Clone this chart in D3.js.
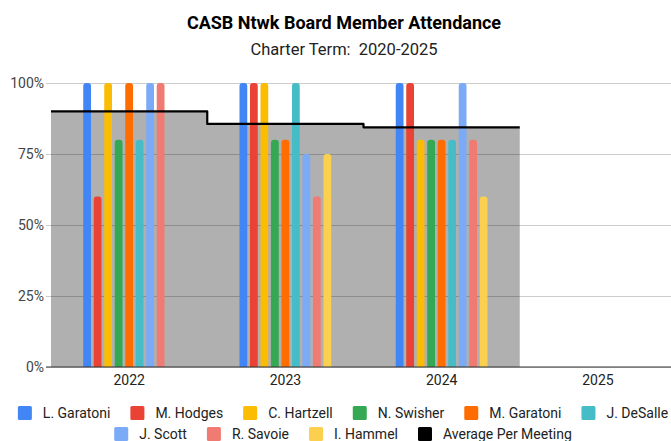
<!DOCTYPE html>
<html>
<head>
<meta charset="utf-8">
<script src="https://cdn.jsdelivr.net/npm/d3@7"></script>
<style>
  body { margin: 0; background: #fff; }
  text { font-family: Roboto, "Noto Sans", sans-serif; }
</style>
</head>
<body>
<script>
var w = 671,
    h = 441;

// chart data
var years = ["2022", "2023", "2024", "2025"];
var members = ["L. Garatoni", "M. Hodges", "C. Hartzell", "N. Swisher", "M. Garatoni",
               "J. DeSalle", "J. Scott", "R. Savoie", "I. Hammel"];
var memberColors = ["#4285f4", "#ea4335", "#fbbc04", "#34a853", "#ff6d01",
                    "#46bdc6", "#7baaf7", "#f07b72", "#fcd04f"];
// attendance % per member, one entry per year (null = no data)
var lGaratoni = [100, 100, 100, null];
var mHodges   = [60, 100, 100, null];
var cHartzell = [100, 100, 80, null];
var nSwisher  = [80, 80, 80, null];
var mGaratoni = [100, 80, 80, null];
var jDeSalle  = [80, 100, 80, null];
var jScott    = [100, 75, 100, null];
var rSavoie   = [100, 60, 80, null];
var iHammel   = [null, 75, 60, null];
var averagePerMeeting = [90, 85.6, 84.4, null];
var yTicks = [0, 25, 50, 75, 100];

var series = [lGaratoni, mHodges, cHartzell, nSwisher, mGaratoni, jDeSalle, jScott, rSavoie, iHammel];

var svg = d3.select("body").append("svg")
    .attr("width", w)
    .attr("height", h);

var x0 = d3.scaleBand().domain(years).range([51, 676]);
var y = d3.scaleLinear().domain([0, 100]).range([367, 83]);
var groupW = 94.5;
var x1 = d3.scaleBand().domain(members)
    .range([x0.bandwidth() / 2 - groupW / 2, x0.bandwidth() / 2 + groupW / 2])
    .paddingInner(0.26).paddingOuter(0.13);

// titles
svg.append("text")
    .attr("x", 344).attr("y", 29)
    .attr("text-anchor", "middle")
    .attr("font-size", 18).attr("font-weight", "bold").attr("fill", "#000")
    .text("CASB Ntwk Board Member Attendance");
svg.append("text")
    .attr("x", 344).attr("y", 55)
    .attr("text-anchor", "middle")
    .attr("font-size", 16.5).attr("fill", "#222")
    .attr("xml:space", "preserve")
    .text("Charter Term:  2020-2025");

// grid + y labels
var yAxis = svg.append("g").attr("transform", "translate(46,0)")
    .call(d3.axisLeft(y).tickValues(yTicks).tickSize(-(w - 46)).tickPadding(2)
      .tickFormat(function(d) { return d + "%"; }));
yAxis.select(".domain").remove();
yAxis.selectAll(".tick line").attr("stroke", "#cccccc");
yAxis.selectAll(".tick text").attr("font-size", 14).attr("fill", "#444")
    .attr("font-family", "Roboto, sans-serif");

// average area (stepped)
var avgPts = [];
years.forEach(function(yr, i) {
  if (averagePerMeeting[i] != null) avgPts.push({ x: x0(yr), v: averagePerMeeting[i] });
});
var lastAvg = avgPts[avgPts.length - 1];
avgPts.push({ x: lastAvg.x + x0.bandwidth(), v: lastAvg.v });

svg.append("path")
    .datum(avgPts)
    .attr("d", d3.area().curve(d3.curveStepAfter)
      .x(function(d) { return d.x; })
      .y0(y(0))
      .y1(function(d) { return y(d.v); }))
    .attr("fill", "#000")
    .attr("fill-opacity", 0.31);

// bars
function barPath(x, yt, bw, yb) {
  var r = Math.min(3, (yb - yt) / 2);
  return "M" + x + "," + yb +
    "V" + (yt + r) +
    "Q" + x + "," + yt + " " + (x + r) + "," + yt +
    "H" + (x + bw - r) +
    "Q" + (x + bw) + "," + yt + " " + (x + bw) + "," + (yt + r) +
    "V" + yb + "Z";
}

var groups = svg.selectAll("g.year")
    .data(years)
    .enter().append("g")
    .attr("class", "year")
    .attr("transform", function(d) { return "translate(" + x0(d) + ",0)"; });

groups.each(function(yr, i) {
  var g = d3.select(this);
  members.forEach(function(m, j) {
    var v = series[j][i];
    if (v == null) return;
    g.append("path")
      .attr("d", barPath(x1(m), y(v), x1.bandwidth(), y(0)))
      .attr("fill", memberColors[j]);
  });
});

// average line
svg.append("path")
    .datum(avgPts)
    .attr("d", d3.line().curve(d3.curveStepAfter)
      .x(function(d) { return d.x; })
      .y(function(d) { return y(d.v); }))
    .attr("fill", "none")
    .attr("stroke", "#000")
    .attr("stroke-width", 2.2)
    .attr("stroke-linejoin", "round");

// baseline + x labels
svg.append("line")
    .attr("x1", 46).attr("x2", w)
    .attr("y1", y(0)).attr("y2", y(0))
    .attr("stroke", "#333");

var xAxis = svg.append("g").attr("transform", "translate(0," + y(0) + ")")
    .call(d3.axisBottom(x0).tickSize(0).tickPadding(8));
xAxis.select(".domain").remove();
xAxis.selectAll(".tick text").attr("font-size", 14).attr("fill", "#222")
    .attr("font-family", "Roboto, sans-serif");

// legend
var legendItems = members.map(function(m, i) { return { name: m, color: memberColors[i] }; });
legendItems.push({ name: "Average Per Meeting", color: "#000" });
var rows = [legendItems.slice(0, 6), legendItems.slice(6)];
var rowY = [413, 434];

rows.forEach(function(row, r) {
  var lg = svg.append("g");
  var xpos = 0;
  row.forEach(function(it) {
    lg.append("rect")
      .attr("x", xpos).attr("y", rowY[r] - 7)
      .attr("width", 14).attr("height", 14)
      .attr("rx", 1.5)
      .attr("fill", it.color);
    var t = lg.append("text")
      .attr("x", xpos + 25).attr("y", rowY[r] + 5)
      .attr("font-size", 14).attr("fill", "#222")
      .text(it.name);
    xpos += 25 + t.node().getComputedTextLength() + 20;
  });
  var total = xpos - 20;
  lg.attr("transform", "translate(" + (343 - total / 2) + ",0)");
});
</script>
</body>
</html>
